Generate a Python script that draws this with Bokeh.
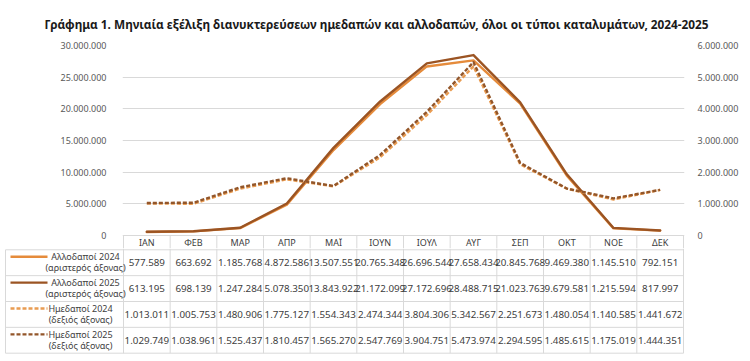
from bokeh.plotting import figure
from bokeh.models import Range1d, LinearAxis, FixedTicker, ColumnDataSource
from bokeh.layouts import column
from bokeh.embed import file_html
from bokeh.resources import INLINE
from bokeh.core.properties import value

# ---------------- data ----------------
months = ["ΙΑΝ", "ΦΕΒ", "ΜΑΡ", "ΑΠΡ", "ΜΑΪ", "ΙΟΥΝ", "ΙΟΥΛ", "ΑΥΓ", "ΣΕΠ", "ΟΚΤ", "ΝΟΕ", "ΔΕΚ"]
foreign_2024 = [577589, 663692, 1185768, 4872586, 13507551, 20765348, 26696544, 27658434, 20845768, 9469380, 1145510, 792151]
foreign_2025 = [613195, 698139, 1247284, 5078350, 13843922, 21172099, 27172696, 28488715, 21023763, 9679581, 1215594, 817997]
domestic_2024 = [1013011, 1005753, 1480906, 1775127, 1554343, 2474344, 3804306, 5342567, 2251673, 1480054, 1140585, 1441672]
domestic_2025 = [1029749, 1038961, 1525437, 1810457, 1565270, 2547769, 3904751, 5473974, 2294595, 1485615, 1175019, 1444351]
series_names = ["Αλλοδαποί 2024", "Αλλοδαποί 2025", "Ημεδαποί 2024", "Ημεδαποί 2025"]
series_axis = ["(αριστερός άξονας)", "(αριστερός άξονας)", "(δεξιός άξονας)", "(δεξιός άξονας)"]
left_ticks = [0, 5000000, 10000000, 15000000, 20000000, 25000000, 30000000]
right_ticks = [0, 1000000, 2000000, 3000000, 4000000, 5000000, 6000000]
title_text = "Γράφημα 1. Μηνιαία εξέλιξη διανυκτερεύσεων ημεδαπών και αλλοδαπών, όλοι οι τύποι καταλυμάτων, 2024-2025"

# ---------------- styles ----------------
FONT = "Noto Sans"
colors = ["#E58B3B", "#9B5423", "#E99C52", "#93562A"]
dashes = ["solid", "solid", "4 2", "4 2"]
ranges = ["default", "default", "right", "right"]
all_series = [foreign_2024, foreign_2025, domestic_2024, domestic_2025]
GRID = "#D9D9D9"
TXT = "#404040"


def fmt(v):
    return f"{v:,}".replace(",", ".")


W, H = 750, 361
n = len(months)
PX_L, PX_R = 123, 683          # month columns
FRAME_T = 43
ZERO_PX = 235
TOP_H = 248                    # top figure height (chart + header row)
ROW_TOP_PX = 249.3
ROW_H = 25.85
ppx = (PX_R - PX_L) / n
pad = 1 / ppx
above_px = ZERO_PX - FRAME_T
below_px = TOP_H - ZERO_PX
L_MAX, R_MAX = left_ticks[-1], right_ticks[-1]


def tx(px):
    return (px - PX_L) / ppx - 0.5


# ---------------- chart (with header row) ----------------
p = figure(width=W, height=TOP_H, output_backend="svg", toolbar_location=None,
           x_range=Range1d(-0.5 - pad, n - 0.5 + pad),
           y_range=Range1d(-L_MAX * below_px / above_px, L_MAX),
           min_border_left=PX_L - 1, min_border_right=W - PX_R - 1,
           min_border_top=FRAME_T, min_border_bottom=0, frame_align=False)
p.extra_y_ranges = {
    "right": Range1d(-R_MAX * below_px / above_px, R_MAX),
    "hdr": Range1d(below_px, -above_px),
}
p.outline_line_color = None
p.background_fill_color = "white"
p.border_fill_color = "white"
p.xaxis.visible = False
p.xgrid.visible = False

p.title.text = title_text
p.title.align = "left"
p.title.offset = -78
p.title.text_font = FONT
p.title.text_font_size = "11.8px"
p.title.text_font_style = "bold"
p.title.text_color = "#1a1a1a"
p.title.standoff = 27

p.ygrid.ticker = FixedTicker(ticks=left_ticks)
p.ygrid.grid_line_color = GRID
p.ygrid.grid_line_width = 1


def style_axis(ax, ticks, standoff):
    ax.ticker = FixedTicker(ticks=ticks)
    ax.major_label_overrides = {t: fmt(t) for t in ticks}
    ax.axis_line_color = None
    ax.major_tick_line_color = None
    ax.minor_tick_line_color = None
    ax.major_label_standoff = standoff
    ax.major_label_text_font = FONT
    ax.major_label_text_font_size = "9px"
    ax.major_label_text_color = "#595959"


style_axis(p.yaxis[0], left_ticks, 10)
ra = LinearAxis(y_range_name="right")
style_axis(ra, right_ticks, 7)
p.add_layout(ra, "right")

xs = list(range(n))
for vals, c, d, r in zip(all_series, colors, dashes, ranges):
    p.line(xs, vals, line_color=c, line_width=2.4, line_dash=d, y_range_name=r,
           line_join="round", line_cap="round" if d == "solid" else "butt")

# header row of the data table
p.text(x=xs, y=[7] * n, text=months, y_range_name="hdr",
       text_align="center", text_baseline="middle", text_font=value(FONT),
       text_font_size="9px", text_color=TXT)
hx = [i - 0.5 for i in range(n + 1)]
p.segment(x0=hx, x1=hx, y0=[0] * len(hx), y1=[below_px] * len(hx),
          y_range_name="hdr", line_color=GRID, line_width=1)

# ---------------- data table body ----------------
TAB_H = H - TOP_H
y_top = (TOP_H - ROW_TOP_PX) / ROW_H
y_bot = (H - ROW_TOP_PX) / ROW_H
t = figure(width=W, height=TAB_H, output_backend="svg", toolbar_location=None,
           x_range=Range1d(tx(0), tx(W)), y_range=Range1d(y_bot, y_top),
           min_border=0, frame_align=False)
t.outline_line_color = None
t.axis.visible = False
t.grid.visible = False
t.background_fill_color = "white"
t.border_fill_color = "white"

nrows = len(all_series)
left_edge = tx(5)
ry = list(range(nrows + 1))
t.segment(x0=[left_edge] * len(ry), x1=[n - 0.5] * len(ry), y0=ry, y1=ry,
          line_color=GRID, line_width=1)
t.segment(x0=hx, x1=hx, y0=[y_top] * len(hx), y1=[nrows] * len(hx),
          line_color=GRID, line_width=1)
t.segment(x0=[left_edge], x1=[left_edge], y0=[0], y1=[nrows],
          line_color=GRID, line_width=1)

cx, cy, ct = [], [], []
for r, vals in enumerate(all_series):
    for i, v in enumerate(vals):
        cx.append(i)
        cy.append(r + 0.49)
        ct.append(fmt(v))
t.text(x="x", y="y", text="t", source=ColumnDataSource(dict(x=cx, y=cy, t=ct)),
       text_align="center", text_baseline="middle",
       text_font=value(FONT), text_font_size="9.8px", text_color=TXT)

for r, (c, d) in enumerate(zip(colors, dashes)):
    yk = r + 0.27
    t.line([tx(10), tx(47)], [yk, yk], line_color=c, line_width=2.4, line_dash=d)
lx = [tx(85) if r < 2 else tx(80) for r in range(nrows)]
t.text(x=lx, y=[r + 0.27 for r in range(nrows)], text=series_names,
       text_align="center", text_baseline="middle", text_font=value(FONT),
       text_font_size="9px", text_color=TXT)
t.text(x=lx, y=[r + 0.69 for r in range(nrows)], text=series_axis,
       text_align="center", text_baseline="middle", text_font=value(FONT),
       text_font_size="9px", text_color=TXT)

layout = column(p, t, spacing=0)
open("out.html", "w").write(file_html(layout, INLINE))
